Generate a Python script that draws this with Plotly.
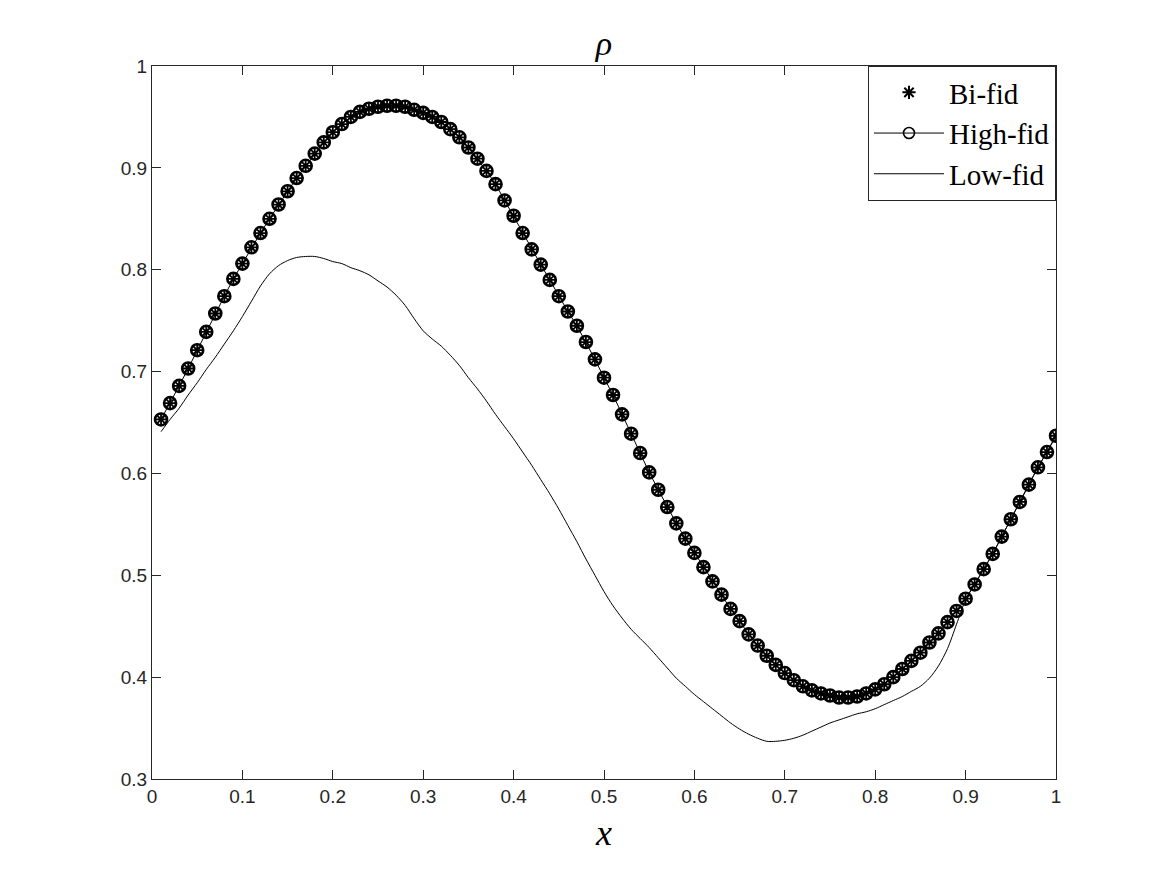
import plotly.graph_objects as go

x_vals = [round(0.01 * i, 2) for i in range(1, 101)]

high_fid = [
    0.653, 0.669, 0.686, 0.703, 0.721, 0.739, 0.757, 0.774, 0.791, 0.806,
    0.822, 0.836, 0.850, 0.864, 0.877, 0.890, 0.902, 0.914, 0.925, 0.935,
    0.943, 0.950, 0.955, 0.958, 0.960, 0.961, 0.961, 0.960, 0.957, 0.954,
    0.950, 0.945, 0.938, 0.930, 0.920, 0.909, 0.897, 0.884, 0.868, 0.853,
    0.836, 0.820, 0.805, 0.790, 0.774, 0.759, 0.745, 0.729, 0.712, 0.694,
    0.677, 0.658, 0.639, 0.620, 0.601, 0.584, 0.567, 0.551, 0.536, 0.522,
    0.508, 0.494, 0.481, 0.467, 0.455, 0.442, 0.431, 0.421, 0.412, 0.404,
    0.397, 0.391, 0.387, 0.384, 0.382, 0.380, 0.380, 0.381, 0.384, 0.388,
    0.393, 0.400, 0.408, 0.416, 0.424, 0.434, 0.443, 0.454, 0.465, 0.477,
    0.491, 0.506, 0.521, 0.538, 0.555, 0.572, 0.589, 0.606, 0.621, 0.637,
]

bi_fid = list(high_fid)

low_fid = [
    0.641, 0.653, 0.664, 0.677, 0.689, 0.702, 0.714, 0.727, 0.740, 0.754,
    0.769, 0.784, 0.796, 0.804, 0.809, 0.812, 0.813, 0.813, 0.811, 0.808,
    0.806, 0.802, 0.799, 0.795, 0.789, 0.783, 0.775, 0.765, 0.752, 0.740,
    0.732, 0.725, 0.716, 0.706, 0.694, 0.683, 0.671, 0.658, 0.646, 0.634,
    0.621, 0.608, 0.594, 0.580, 0.565, 0.549, 0.533, 0.516, 0.500, 0.484,
    0.470, 0.458, 0.447, 0.438, 0.429, 0.419, 0.409, 0.399, 0.391, 0.383,
    0.376, 0.369, 0.362, 0.355, 0.349, 0.344, 0.340, 0.337, 0.337, 0.338,
    0.340, 0.343, 0.347, 0.351, 0.355, 0.358, 0.361, 0.364, 0.366, 0.369,
    0.373, 0.377, 0.381, 0.386, 0.391, 0.399, 0.411, 0.428, 0.452, 0.476,
    0.491, 0.506, 0.521, 0.538, 0.555, 0.572, 0.589, 0.606, 0.621, 0.637,
]

x_ticks = [0, 0.1, 0.2, 0.3, 0.4, 0.5, 0.6, 0.7, 0.8, 0.9, 1]
x_tick_labels = ["0", "0.1", "0.2", "0.3", "0.4", "0.5", "0.6", "0.7", "0.8", "0.9", "1"]
y_ticks = [0.3, 0.4, 0.5, 0.6, 0.7, 0.8, 0.9, 1]
y_tick_labels = ["0.3", "0.4", "0.5", "0.6", "0.7", "0.8", "0.9", "1"]

fig = go.Figure()

fig.add_trace(go.Scatter(
    x=x_vals, y=high_fid, mode="lines+markers", name="High-fid",
    line=dict(color="black", width=1),
    marker=dict(symbol="circle-open", size=12, color="black",
                line=dict(color="black", width=2.6)),
    showlegend=False,
))
fig.add_trace(go.Scatter(
    x=x_vals, y=bi_fid, mode="markers", name="Bi-fid",
    marker=dict(symbol="asterisk-open", size=11, color="black",
                line=dict(color="black", width=1.8)),
    showlegend=False,
))
fig.add_trace(go.Scatter(
    x=x_vals, y=low_fid, mode="lines", name="Low-fid",
    line=dict(color="black", width=1, shape="spline", smoothing=0.8),
    showlegend=False,
))

# legend entries (drawn in legend order)
fig.add_trace(go.Scatter(
    x=[None], y=[None], mode="markers", name="Bi-fid",
    marker=dict(symbol="asterisk-open", size=11, color="black",
                line=dict(color="black", width=2)),
))
fig.add_trace(go.Scatter(
    x=[None], y=[None], mode="lines+markers", name="High-fid",
    line=dict(color="black", width=1),
    marker=dict(symbol="circle-open", size=11, color="black",
                line=dict(color="black", width=1.6)),
))
fig.add_trace(go.Scatter(
    x=[None], y=[None], mode="lines", name="Low-fid",
    line=dict(color="black", width=1),
))

axis_common = dict(
    showgrid=False, zeroline=False, showline=True, linecolor="#262626",
    linewidth=1, mirror="allticks", ticks="inside", ticklen=9,
    tickcolor="#262626", tickwidth=1,
    tickfont=dict(family="Liberation Sans, Arial, sans-serif", size=19, color="#262626"),
)

serif = "Liberation Serif, DejaVu Serif, serif"

fig.update_layout(
    width=1167, height=875,
    margin=dict(l=152, r=111, t=66, b=96),
    paper_bgcolor="white", plot_bgcolor="white",
    title=dict(text="<i>ρ</i>", x=0.5, xref="paper", xanchor="center",
               y=1 - 43 / 875, yref="container", yanchor="middle",
               font=dict(family=serif, size=34, color="black")),
    xaxis=dict(range=[0, 1], tickvals=x_ticks, ticktext=x_tick_labels,
               title=dict(text="<i>x</i>", standoff=14,
                          font=dict(family=serif, size=36, color="black")),
               **axis_common),
    yaxis=dict(range=[0.3, 1], tickvals=y_ticks, ticktext=y_tick_labels, **axis_common),
    legend=dict(x=1, xanchor="right", y=1, yanchor="top",
                bgcolor="white", bordercolor="#262626", borderwidth=1,
                font=dict(family=serif, size=29, color="black"),
                itemwidth=70, tracegroupgap=2),
    showlegend=True,
)

fig.write_html("out.html")
